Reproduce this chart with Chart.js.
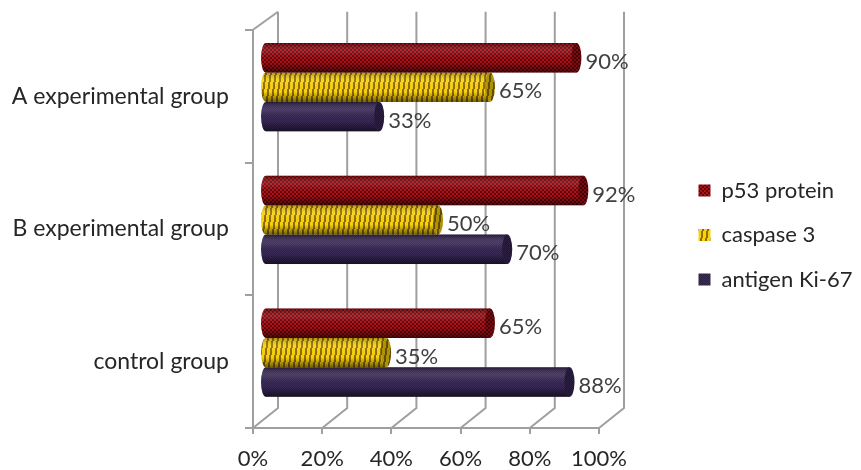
<!DOCTYPE html>
<html>
<head>
<meta charset="utf-8">
<style>
html, body { margin: 0; padding: 0; background: #fff; }
canvas { display: block; }
</style>
<script src="https://cdn.jsdelivr.net/npm/chart.js@4"></script>
</head>
<body>
<canvas id="chart" width="861" height="470"></canvas>
<script>
const categories = ['A experimental group', 'B experimental group', 'control group'];
const p53Values = [90, 92, 65];
const caspaseValues = [65, 50, 35];
const ki67Values = [33, 70, 88];
const seriesNames = ['p53 protein', 'caspase 3', 'antigen Ki-67'];

const GRID = '#9f9f9f';
const FONT = 'Lato, sans-serif';

// small tile used as bar texture
function makeTile(w, h, paint) {
    const c = document.createElement('canvas');
    c.width = w;
    c.height = h;
    paint(c.getContext('2d'));
    return document.createElement('canvas').getContext('2d').createPattern(c, 'repeat');
}

const redFill = makeTile(4, 4, g => {
    g.fillStyle = '#b30f17';
    g.fillRect(0, 0, 4, 4);
    g.fillStyle = '#5e0409';
    g.fillRect(0, 0, 2, 2);
    g.fillRect(2, 2, 2, 2);
});
// stripes lean a little, one pixel every seven rows
const yellowFill = makeTile(5, 35, g => {
    g.fillStyle = '#fad20a';
    g.fillRect(0, 0, 5, 35);
    g.fillStyle = '#8f6c00';
    for (let y = 0; y < 35; y++) {
        const off = 4 - Math.floor(y / 7);
        g.fillRect(off, y, 2, 1);
        if (off === 4) g.fillRect(0, y, 1, 1);
    }
});
const purpleFill = makeTile(2, 2, g => {
    g.fillStyle = '#3b2b58';
    g.fillRect(0, 0, 2, 2);
    g.fillStyle = '#2c2143';
    g.fillRect(0, 0, 1, 1);
    g.fillRect(1, 1, 1, 1);
});

// bars sit half way between the front axis and the back wall
const BAR_DX = 12, BAR_DY = -9, WALL_DX = 25, WALL_DY = 20;
const CAP = 5;

const wallPlugin = {
    id: 'wall',
    beforeDatasetsDraw(chart) {
        const { ctx, chartArea, scales } = chart;
        ctx.save();
        ctx.strokeStyle = GRID;
        ctx.lineWidth = 2;
        scales.x.ticks.forEach(t => {
            const x = scales.x.getPixelForValue(t.value);
            ctx.beginPath();
            ctx.moveTo(x, chartArea.bottom);
            ctx.lineTo(x + WALL_DX, chartArea.bottom - WALL_DY);
            ctx.lineTo(x + WALL_DX, chartArea.top - 18);
            ctx.stroke();
        });
        ctx.beginPath();
        ctx.moveTo(chartArea.left, chartArea.top);
        ctx.lineTo(chartArea.left + WALL_DX, chartArea.top - 18);
        ctx.stroke();
        ctx.restore();

        ctx.save();
        ctx.translate(BAR_DX, BAR_DY);
    },
    afterDatasetsDraw(chart) {
        const { ctx } = chart;
        chart.data.datasets.forEach((ds, i) => {
            chart.getDatasetMeta(i).data.forEach(bar => {
                const top = bar.y - bar.height / 2;
                const bottom = bar.y + bar.height / 2;
                const shade = ctx.createLinearGradient(0, top, 0, bottom);
                shade.addColorStop(0, 'rgba(0,0,0,0.3)');
                shade.addColorStop(0.3, 'rgba(255,255,255,0.1)');
                shade.addColorStop(0.65, 'rgba(0,0,0,0)');
                shade.addColorStop(1, 'rgba(0,0,0,0.55)');

                // round left end, only the half outside the body
                ctx.beginPath();
                ctx.ellipse(bar.base, bar.y, CAP, bar.height / 2, 0, Math.PI / 2, Math.PI * 1.5);
                ctx.closePath();
                ctx.fillStyle = ds.backgroundColor;
                ctx.fill();
                ctx.fillStyle = shade;
                ctx.fill();

                // body shading
                ctx.fillStyle = shade;
                ctx.fillRect(bar.base, top, bar.x - bar.base, bar.height);

                // right end cap
                ctx.beginPath();
                ctx.ellipse(bar.x, bar.y, CAP, bar.height / 2, 0, 0, Math.PI * 2);
                ctx.fillStyle = ds.backgroundColor;
                ctx.fill();
                ctx.fillStyle = 'rgba(0,0,0,0.3)';
                ctx.fill();
            });
        });
        ctx.restore();

        // value labels
        ctx.save();
        ctx.font = '22px ' + FONT;
        ctx.fillStyle = '#404040';
        ctx.textBaseline = 'middle';
        chart.data.datasets.forEach((ds, i) => {
            chart.getDatasetMeta(i).data.forEach((bar, j) => {
                ctx.fillText(ds.data[j] + '%', bar.x + BAR_DX + CAP + 4, bar.y + BAR_DY + 4);
            });
        });
        ctx.restore();
    },
    afterLayout(chart) {
        // legend goes in the empty band right of the plot
        const lg = chart.legend;
        const w = lg.width, h = lg.height;
        lg.left = 676;
        lg.right = lg.left + w;
        lg.top = 157;
        lg.bottom = lg.top + h;
    }
};

new Chart(document.getElementById('chart'), {
    type: 'bar',
    plugins: [wallPlugin],
    data: {
        labels: categories,
        datasets: [
            { label: seriesNames[0], data: p53Values, backgroundColor: redFill },
            { label: seriesNames[1], data: caspaseValues, backgroundColor: yellowFill },
            { label: seriesNames[2], data: ki67Values, backgroundColor: purpleFill }
        ]
    },
    options: {
        indexAxis: 'y',
        responsive: false,
        animation: false,
        events: [],
        layout: { padding: { top: 28, right: 262, left: 0, bottom: 0 } },
        datasets: { bar: { categoryPercentage: 0.665, barPercentage: 1, borderWidth: 0 } },
        scales: {
            x: {
                min: 0,
                max: 100,
                afterFit: s => { s.height = 42; },
                grid: { drawOnChartArea: false, color: GRID, lineWidth: 2, tickLength: 6 },
                border: { color: GRID, width: 2 },
                ticks: {
                    stepSize: 20,
                    maxRotation: 0,
                    padding: 12,
                    color: '#262626',
                    font: { family: FONT, size: 22 },
                    callback: v => v + '%'
                }
            },
            y: {
                afterFit: s => { s.width = 253; },
                grid: { drawOnChartArea: false, offset: true, color: GRID, lineWidth: 2, tickLength: 8 },
                border: { color: GRID, width: 2 },
                ticks: {
                    padding: 16,
                    color: '#262626',
                    font: { family: FONT, size: 23 }
                }
            }
        },
        plugins: {
            tooltip: { enabled: false },
            legend: {
                position: 'chartArea',
                align: 'start',
                labels: {
                    boxWidth: 12,
                    boxHeight: 12,
                    padding: 22.5,
                    color: '#262626',
                    font: { family: FONT, size: 22 }
                }
            }
        }
    }
});
</script>
</body>
</html>
